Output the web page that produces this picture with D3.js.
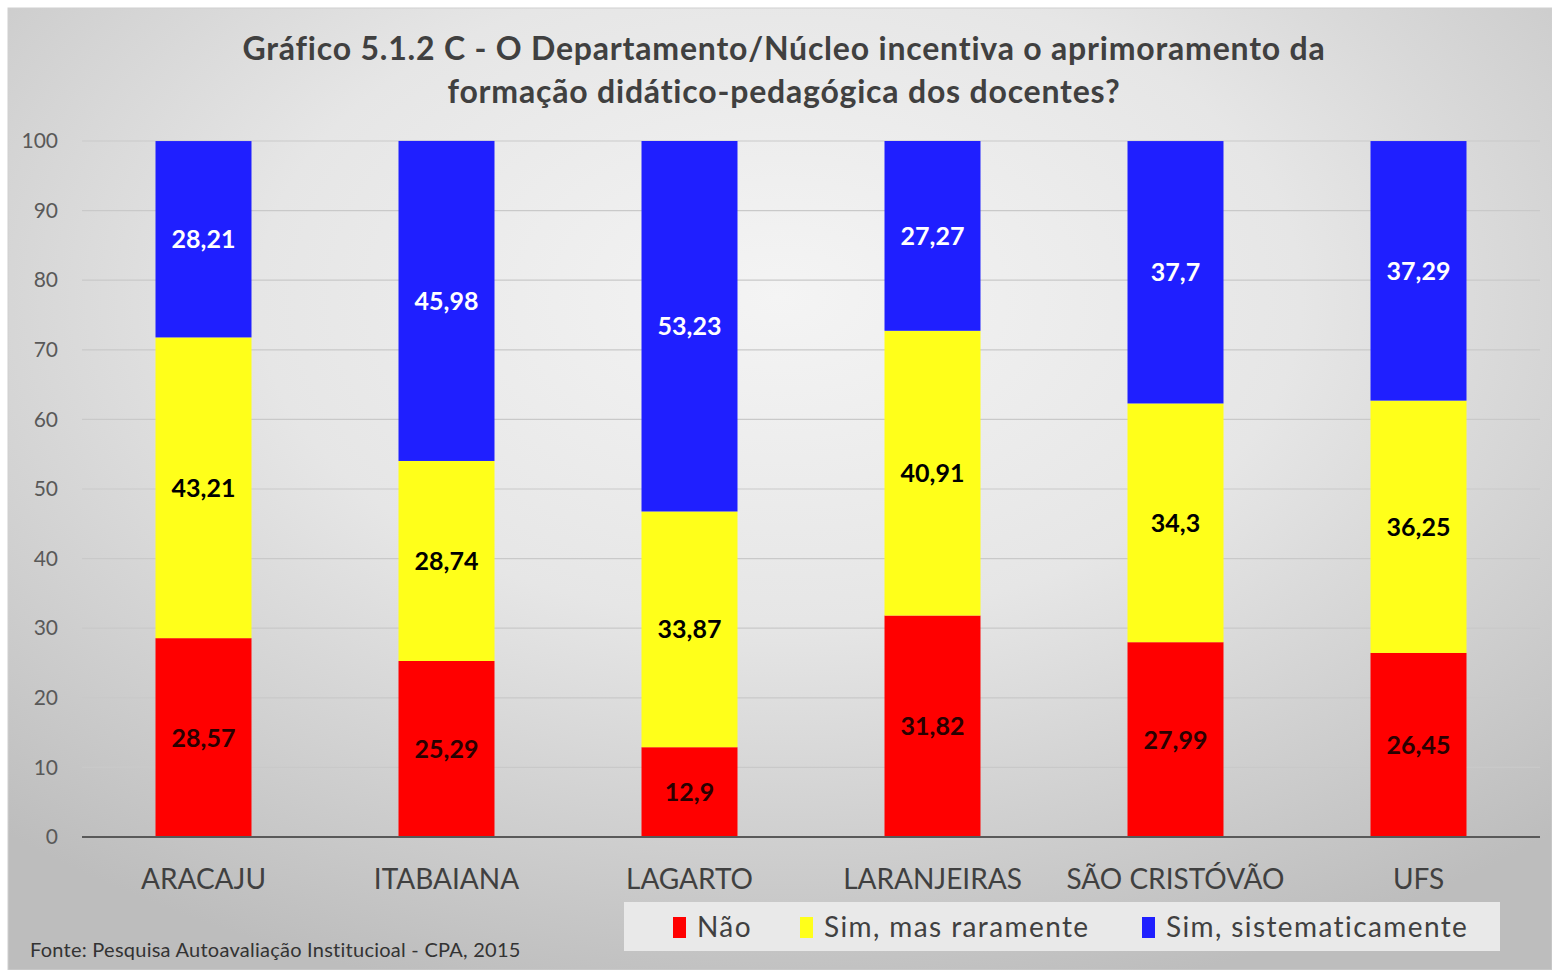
<!DOCTYPE html>
<html><head><meta charset="utf-8">
<script src="https://cdn.jsdelivr.net/npm/d3@7"></script>
<style>body{margin:0;background:#fff;} svg{display:block;}</style>
</head><body>
<script>
const categories = ["ARACAJU","ITABAIANA","LAGARTO","LARANJEIRAS","SÃO CRISTÓVÃO","UFS"];
const seriesNames = ["Não","Sim, mas raramente","Sim, sistematicamente"];
const nao = [28.57,25.29,12.9,31.82,27.99,26.45];
const simRaramente = [43.21,28.74,33.87,40.91,34.3,36.25];
const simSistematicamente = [28.21,45.98,53.23,27.27,37.7,37.29];
const yTicks = [0,10,20,30,40,50,60,70,80,90,100];
const titleLines = ["Gráfico 5.1.2 C - O Departamento/Núcleo incentiva o aprimoramento da","formação didático-pedagógica dos docentes?"];
const source = "Fonte: Pesquisa Autoavaliação Institucioal - CPA, 2015";

(function(){
const W=1552,H=970;
const colors=["#ff0000","#ffff1a","#1f1fff"];
const labelColors=["#2a0000","#000000","#ffffff"];
const font="Lato, 'Open Sans', sans-serif";

const svg=d3.select("body").append("svg").attr("width",W).attr("height",H);
const defs=svg.append("defs");
const rg=defs.append("radialGradient").attr("id","bg").attr("cx","50%").attr("cy","30%").attr("r","75%");
rg.append("stop").attr("offset","0%").attr("stop-color","#f4f4f4");
rg.append("stop").attr("offset","45%").attr("stop-color","#e6e6e6");
rg.append("stop").attr("offset","100%").attr("stop-color","#bdbdbd");
svg.append("rect").attr("x",8).attr("y",8).attr("width",W-8).attr("height",H-8).attr("fill","url(#bg)").attr("stroke","#d0d0d0");

const pl=82,pr=1540,pt=141,pb=837;
const x=d3.scaleBand().domain(categories).range([pl,pr]).paddingInner(0.605).paddingOuter(0.3025);
const y=d3.scaleLinear().domain([0,100]).range([pb,pt]);

svg.append("g").selectAll("line").data(yTicks.filter(d=>d>0)).join("line")
 .attr("x1",pl).attr("x2",pr).attr("y1",d=>y(d)).attr("y2",d=>y(d))
 .attr("stroke","#c9c9c9").attr("stroke-width",1.2);

const yAxis=d3.axisLeft(y).tickValues(yTicks).tickSize(0).tickPadding(0);
const ya=svg.append("g").attr("transform",`translate(${58},0)`).call(yAxis);
ya.select(".domain").remove();
ya.selectAll("text").attr("font-family",font).attr("font-size",21).attr("fill","#595959");

const rows=categories.map((c,i)=>({cat:c,s0:nao[i],s1:simRaramente[i],s2:simSistematicamente[i]}));
const stack=d3.stack().keys(["s0","s1","s2"])(rows);
const g=svg.append("g");
stack.forEach((layer,k)=>{
  g.append("g").selectAll("rect").data(layer).join("rect")
   .attr("x",d=>x(d.data.cat)).attr("width",x.bandwidth())
   .attr("y",d=>y(d[1])).attr("height",d=>y(d[0])-y(d[1]))
   .attr("fill",colors[k]);
});
stack.forEach((layer,k)=>{
  g.append("g").selectAll("text").data(layer).join("text")
   .attr("x",d=>x(d.data.cat)+x.bandwidth()/2).attr("y",d=>y((d[0]+d[1])/2)+9)
   .attr("text-anchor","middle").attr("font-family",font).attr("font-weight","bold")
   .attr("font-size",25).attr("fill",labelColors[k])
   .text(d=>String(+(d[1]-d[0]).toFixed(2)).replace(".",","));
});

svg.append("line").attr("x1",pl).attr("x2",pr).attr("y1",y(0)).attr("y2",y(0)).attr("stroke","#595959").attr("stroke-width",2.2);

const xa=svg.append("g").attr("transform",`translate(0,${pb})`).call(d3.axisBottom(x).tickSize(0).tickPadding(38));
xa.select(".domain").remove();
xa.selectAll("text").attr("font-family",font).attr("font-size",28).attr("fill","#404040").attr("dy","0.5em");

svg.append("g").selectAll("text").data(titleLines).join("text")
 .attr("x",784).attr("y",(d,i)=>60+i*43).attr("text-anchor","middle")
 .attr("font-family",font).attr("font-weight","bold").attr("font-size",32).attr("letter-spacing",0.8).attr("fill","#404040").text(d=>d);

svg.append("rect").attr("x",624).attr("y",902).attr("width",876).attr("height",49).attr("fill","#e9e9e9");
const legX=[673,800,1142];
const lg=svg.append("g").selectAll("g").data(seriesNames).join("g").attr("transform",(d,i)=>`translate(${legX[i]},0)`);
lg.append("rect").attr("x",0).attr("y",917).attr("width",13).attr("height",21).attr("fill",(d,i)=>colors[i]);
lg.append("text").attr("x",24).attr("y",937).attr("font-family",font).attr("font-size",28).attr("letter-spacing",1.4).attr("fill","#404040").text(d=>d);

svg.append("text").attr("x",30).attr("y",957).attr("font-family",font).attr("font-size",20).attr("letter-spacing",0.25).attr("fill","#333").text(source);
})();
</script>
</body></html>
